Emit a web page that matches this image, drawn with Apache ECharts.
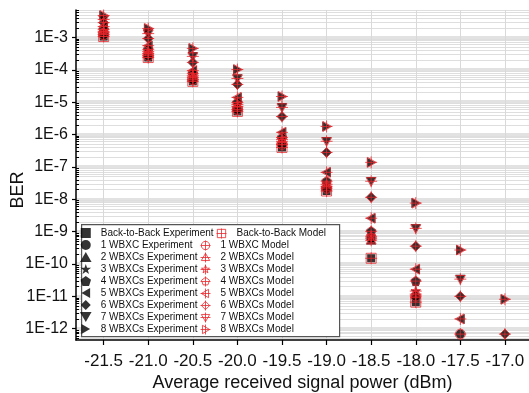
<!DOCTYPE html>
<html>
<head>
<meta charset="utf-8">
<script src="https://cdn.jsdelivr.net/npm/echarts@6/dist/echarts.min.js"></script>
<style>
  html, body { margin: 0; padding: 0; background: #fff; }
  #berChart { width: 529px; height: 393px; }
</style>
</head>
<body>
<div id="berChart"></div>
<script>
// received power (dBm) at each measurement column
const powers = [-21.5, -21.0, -20.5, -20.0, -19.5, -19.0, -18.5, -18.0, -17.5, -17.0];

const berB2B = [1.07e-3, 2.4e-4, 4.4e-5, 5.2e-6, 4.0e-7, 1.8e-8, 1.5e-10, 6.6e-12];
const ber1 = [1.23e-3, 2.75e-4, 5.0e-5, 6.0e-6, 5.0e-7, 2.2e-8, 6.3e-10, 1.02e-11, 6.8e-13];
const ber2 = [1.41e-3, 3.2e-4, 5.9e-5, 7.4e-6, 6.2e-7, 2.5e-8, 5.4e-10, 1.17e-11];
const ber3 = [1.55e-3, 3.7e-4, 6.8e-5, 8.5e-6, 7.1e-7, 2.9e-8, 7.2e-10, 1.45e-11];
const ber4 = [1.78e-3, 4.3e-4, 7.8e-5, 9.8e-6, 8.1e-7, 3.6e-8, 1.02e-9, 2.95e-11];
const ber5 = [2.19e-3, 5.6e-4, 9.5e-5, 1.41e-5, 1.17e-6, 6.8e-8, 2.6e-9, 6.9e-11, 2.0e-12];
const ber6 = [2.88e-3, 9.3e-4, 1.7e-4, 3.55e-5, 3.6e-6, 2.8e-7, 1.15e-8, 3.55e-10, 1.0e-11, 6.8e-13];
const ber7 = [3.6e-3, 1.32e-3, 2.6e-4, 5.4e-5, 6.9e-6, 6.2e-7, 3.6e-8, 1.26e-9, 3.4e-11];
const ber8 = [4.8e-3, 1.9e-3, 4.6e-4, 1.02e-4, 1.5e-5, 1.78e-6, 1.38e-7, 7.6e-9, 2.7e-10, 8.1e-12];

// model points sit on top of the measured ones
const model = [berB2B, ber1, ber2, ber3, ber4, ber5, ber6, ber7, ber8];
const measured = [berB2B, ber1, ber2, ber3, ber4, ber5, ber6, ber7, ber8];

const expNames = ["Back-to-Back Experiment", "1 WBXC Experiment", "2 WBXCs Experiment",
  "3 WBXCs Experiment", "4 WBXCs Experiment", "5 WBXCs Experiment",
  "6 WBXCs Experiment", "7 WBXCs Experiment", "8 WBXCs Experiment"];
const modelNames = ["Back-to-Back Model", "1 WBXC Model", "2 WBXCs Model",
  "3 WBXCs Model", "4 WBXCs Model", "5 WBXCs Model",
  "6 WBXCs Model", "7 WBXCs Model", "8 WBXCs Model"];

const xTicks = [-21.5, -21.0, -20.5, -20.0, -19.5, -19.0, -18.5, -18.0, -17.5, -17.0];
const yDecades = [-12, -11, -10, -9, -8, -7, -6, -5, -4, -3];

const FONT = "'Liberation Sans', Arial, sans-serif";
const RED = "#e8262b";
const Y_MIN = -12.35, Y_MAX = -2.15;

// filled markers for measured data
const expSymbols = [
  "path://M0,0H20V20H0Z",
  "circle",
  "path://M10,0L20,17.3L0,17.3Z",
  "path://M10,0L12.35,6.76L19.51,6.91L13.8,11.24L15.88,18.09L10,14L4.12,18.09L6.2,11.24L0.49,6.91L7.65,6.76Z",
  "path://M10,0L19.51,6.91L15.88,18.09L4.12,18.09L0.49,6.91Z",
  "path://M0,10L17.3,0L17.3,20Z",
  "path://M10,0L20,10L10,20L0,10Z",
  "path://M0,0L20,0L10,17.3Z",
  "path://M0,0L17.3,10L0,20Z",
];
const expSizes = [8, 9, 10, 10, 10, 10, 10, 10, 10];

// open markers with a cross for the model
const PLUS = " M12,0V24 M0,12H24";
const modelSymbols = [
  "path://M2,2H22V22H2Z" + PLUS,
  "path://M2,12A10,10,0,1,1,22,12A10,10,0,1,1,2,12Z" + PLUS,
  "path://M12,2L22,19.3L2,19.3Z" + PLUS,
  "path://M12,2L14.35,8.76L21.51,8.91L15.8,13.24L17.88,20.09L12,16L6.12,20.09L8.2,13.24L2.49,8.91L9.65,8.76Z" + PLUS,
  "path://M12,2L21.51,8.91L17.88,20.09L6.12,20.09L2.49,8.91Z" + PLUS,
  "path://M2,12L19.3,2L19.3,22Z" + PLUS,
  "path://M12,2L22,12L12,22L2,12Z" + PLUS,
  "path://M2,4.7L22,4.7L12,22Z" + PLUS,
  "path://M4.7,2L22,12L4.7,22Z" + PLUS,
];

const toPts = (arr) => arr.map((v, i) => [powers[i], Math.log10(v)]);

// minor grid positions (2..9 x 10^n) on the log scale
const yMinor = [];
for (let n = -13; n <= -2; n++) {
  for (let k = 2; k <= 9; k++) {
    const v = n + Math.log10(k);
    if (v > Y_MIN && v < Y_MAX) yMinor.push(v);
  }
}

const series = [];
measured.forEach((arr, i) => {
  series.push({
    type: "scatter",
    name: expNames[i],
    data: toPts(arr),
    symbol: expSymbols[i],
    symbolSize: expSizes[i],
    symbolKeepAspect: true,
    itemStyle: { color: "#000" },
    z: 2,
  });
});
model.forEach((arr, i) => {
  series.push({
    type: "scatter",
    name: modelNames[i],
    data: toPts(arr),
    symbol: modelSymbols[i],
    symbolSize: 12,
    symbolKeepAspect: true,
    itemStyle: { color: "rgba(0,0,0,0)", borderColor: RED, borderWidth: 1 },
    z: 3,
  });
});

const legendBase = {
  orient: "vertical",
  padding: 0,
  itemWidth: 20,
  itemHeight: 10,
  itemGap: 2,
  selectedMode: false,
  textStyle: { fontFamily: FONT, fontSize: 10, color: "#111", lineHeight: 10 },
};

const gridBox = { left: 76, right: 0, top: 10, bottom: 53, outerBoundsMode: "none", containLabel: false };

const chart = echarts.init(document.getElementById("berChart"));
chart.setOption({
  animation: false,
  backgroundColor: "#fff",
  grid: [Object.assign({}, gridBox), Object.assign({}, gridBox)],
  xAxis: [
    {
      type: "value",
      gridIndex: 0,
      min: -21.81,
      max: -16.73,
      name: "Average received signal power (dBm)",
      nameLocation: "middle",
      nameGap: 34,
      nameMoveOverlap: false,
      nameTextStyle: { fontFamily: FONT, fontSize: 18, color: "#111" },
      axisLine: { lineStyle: { color: "#000", width: 1.5 } },
      axisTick: { customValues: xTicks, length: 5, lineStyle: { color: "#000", width: 1.2 } },
      axisLabel: {
        customValues: xTicks,
        margin: 13,
        fontFamily: FONT,
        fontSize: 17,
        color: "#111",
        formatter: (v) => v.toFixed(1),
      },
      splitLine: { show: true, lineStyle: { color: "#d9d9d9", width: 1 } },
    },
    { type: "value", gridIndex: 1, min: -21.81, max: -16.73, show: false },
  ],
  yAxis: [
    {
      type: "value",
      gridIndex: 0,
      min: Y_MIN,
      max: Y_MAX,
      name: "BER",
      nameLocation: "middle",
      nameGap: 49,
      nameMoveOverlap: false,
      nameTextStyle: { fontFamily: FONT, fontSize: 18, color: "#111", padding: [0, 30, 0, 0] },
      axisLine: { lineStyle: { color: "#000", width: 1.5 } },
      axisTick: { customValues: yDecades, length: 4, lineStyle: { color: "#000", width: 1.2 } },
      axisLabel: {
        customValues: yDecades,
        margin: 8,
        fontFamily: FONT,
        fontSize: 16,
        color: "#111",
        formatter: (v) => "1E" + Math.round(v),
      },
      splitLine: { show: true, lineStyle: { color: "#e2e2e2", width: 4 } },
    },
    {
      type: "value",
      gridIndex: 1,
      min: Y_MIN,
      max: Y_MAX,
      axisLine: { show: false },
      axisTick: { customValues: yMinor, inside: true, length: 3, lineStyle: { color: "#000", width: 1 } },
      axisLabel: { show: false },
      splitLine: { show: true, lineStyle: { color: "#dedede", width: 1 } },
    },
  ],
  graphic: [
    {
      type: "rect",
      left: 81,
      top: 224,
      z: 3,
      shape: { width: 258, height: 112 },
      style: { fill: "#fff", stroke: "#555", lineWidth: 1.2 },
    },
  ],
  legend: [
    Object.assign({}, legendBase, {
      data: expNames,
      left: 80,
      top: 228,
      itemStyle: { borderWidth: 0 },
    }),
    Object.assign({}, legendBase, {
      data: modelNames.slice(1),
      left: 200,
      top: 240,
      itemGap: 1,
      itemStyle: { borderWidth: 1 },
    }),
    Object.assign({}, legendBase, {
      data: modelNames.slice(0, 1),
      left: 216,
      top: 228,
      itemStyle: { borderWidth: 1 },
    }),
  ],
  series: series,
});
</script>
</body>
</html>
